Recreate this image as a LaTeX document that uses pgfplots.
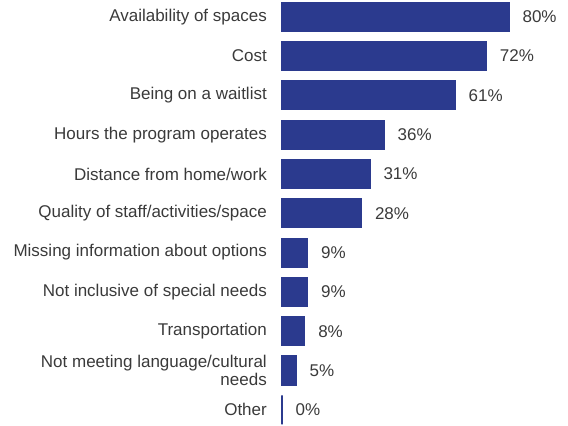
\documentclass[border=0pt]{standalone}
\usepackage{pgfplots}
\pgfplotsset{compat=1.18}
\usepackage{fontspec}
\setmainfont{Liberation Sans}
\definecolor{barblue}{HTML}{2B3A8E}
\definecolor{txt}{HTML}{3A3A3A}
\begin{document}
\begin{tikzpicture}[x=1bp,y=1bp]
\path[use as bounding box] (0,0) rectangle (568,425);
\begin{axis}[
  at={(282bp,-0.5bp)}, anchor=south west,
  scale only axis, width=283.75bp, height=424.44bp,
  xmin=0, xmax=100, ymin=-0.4, ymax=10.4,
  xbar, bar width=29bp,
  hide x axis,
  axis y line*=left,
  y axis line style={draw=none},
  major tick length=0pt,
  /pgf/number format/assume math mode=true,
  ytick={0,1,2,3,4,5,6,7,8,9,10},
  yticklabels={Other, {Not meeting language/cultural\\needs}, Transportation, Not inclusive of special needs, Missing information about options, Quality of staff/activities/space, Distance from home/work, Hours the program operates, Being on a waitlist, Cost, Availability of spaces},
  yticklabel style={font=\fontsize{17bp}{18.5bp}\selectfont, text=txt, align=right, inner sep=0pt, xshift=-15bp},
  nodes near coords={\pgfmathprintnumber{\pgfplotspointmeta}\%},
  point meta=x,
  every node near coord/.append style={font=\fontsize{17bp}{18.5bp}\selectfont, text=txt, anchor=west, inner sep=0pt, xshift=13bp},
  clip=false,
]
\addplot[fill=barblue, draw=barblue, line width=1.1pt] coordinates {
(0,0) (5,1) (8,2) (9,3) (9,4) (28,5) (31,6) (36,7) (61,8) (72,9) (80,10)
};
\end{axis}
\end{tikzpicture}
\end{document}
